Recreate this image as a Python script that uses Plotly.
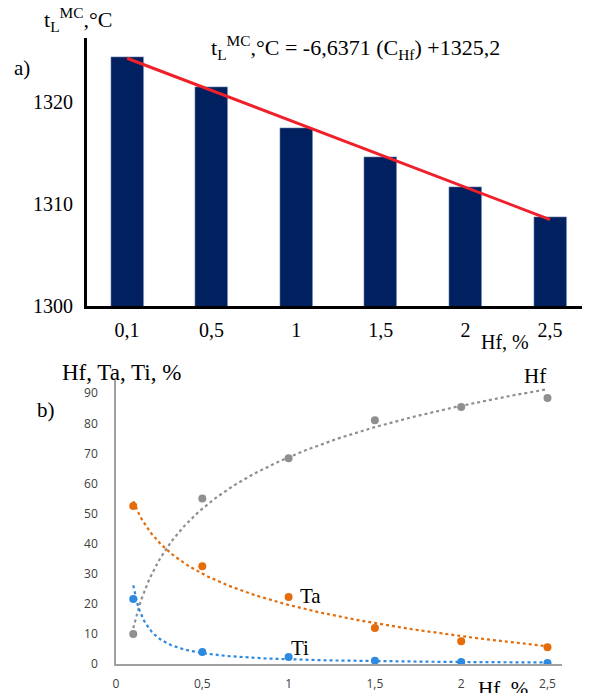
import numpy as np
import plotly.graph_objects as go

# ---- data: panel a) ----
hf_categories = ["0,1", "0,5", "1", "1,5", "2", "2,5"]
tl_values = [1324.4, 1321.5, 1317.5, 1314.6, 1311.7, 1308.7]
top_yticks = [1300, 1310, 1320]

# ---- data: panel b) ----
hf_content = [0.1, 0.5, 1.0, 1.5, 2.0, 2.5]
hf_share = [10.0, 55.0, 68.4, 81.0, 85.4, 88.4]
ta_share = [52.5, 32.5, 22.3, 12.0, 7.6, 5.6]
ti_share = [21.6, 4.0, 2.3, 1.1, 0.7, 0.3]
bottom_xticks = [0, 0.5, 1, 1.5, 2, 2.5]
bottom_xtext = ["0", "0,5", "1", "1,5", "2", "2,5"]
bottom_yticks = [0, 10, 20, 30, 40, 50, 60, 70, 80, 90]

W, H = 595, 693
NAVY = "#002060"
RED = "#f0202a"
GRAY = "#8f8f8f"
ORANGE = "#e46c0a"
BLUE = "#2e8ae0"
SERIF = "Liberation Serif, Times New Roman, serif"
SANS = "Open Sans, sans-serif"


def px(x):
    return x / W


def py(y):
    return 1 - y / H


fig = go.Figure()

# panel a: bars + linear trend (Excel-style, x = 1..n)
fig.add_trace(go.Bar(x=hf_categories, y=tl_values, marker_color=NAVY,
                     width=0.39, xaxis="x", yaxis="y", showlegend=False))
idx = np.arange(1, len(tl_values) + 1)
k, b = np.polyfit(idx, tl_values, 1)
trend_a = k * idx + b
fig.add_trace(go.Scatter(x=hf_categories, y=trend_a, mode="lines",
                         line=dict(color=RED, width=3), xaxis="x", yaxis="y",
                         showlegend=False))

# panel b: points + trendlines
xs = np.array(hf_content)
xf = np.linspace(0.1, 2.5, 200)
a1, b1 = np.polyfit(np.log(xs), hf_share, 1)          # Hf: logarithmic
hf_fit = a1 * np.log(xf) + b1
a2, b2 = np.polyfit(np.log(xs), ta_share, 1)          # Ta: logarithmic
ta_fit = a2 * np.log(xf) + b2
p3, c3 = np.polyfit(np.log(xs), np.log(ti_share), 1)  # Ti: power
ti_fit = np.exp(c3) * xf ** p3

for fit, vals, col in [(hf_fit, hf_share, GRAY), (ta_fit, ta_share, ORANGE),
                       (ti_fit, ti_share, BLUE)]:
    fig.add_trace(go.Scatter(x=xf, y=fit, mode="lines",
                             line=dict(color=col, width=2.2, dash="dot"),
                             xaxis="x2", yaxis="y2", showlegend=False))
    fig.add_trace(go.Scatter(x=hf_content, y=vals, mode="markers",
                             marker=dict(color=col, size=8),
                             xaxis="x2", yaxis="y2", showlegend=False))

fig.update_layout(
    width=W, height=H,
    margin=dict(l=0, r=0, t=0, b=0),
    paper_bgcolor="white", plot_bgcolor="white",
    bargap=0,
    xaxis=dict(domain=[px(87), px(582)], type="category",
               range=[-0.473, 5.378], showline=True, linecolor="black",
               linewidth=3, ticks="", showgrid=False, zeroline=False,
               tickfont=dict(family=SERIF, size=20, color="black"),
               ticklabelstandoff=4, anchor="y", automargin=False),
    yaxis=dict(domain=[py(306), py(38)], range=[1300, 1326.3],
               tickvals=top_yticks, showline=True, linecolor="black",
               linewidth=3, ticks="", showgrid=False, zeroline=False,
               tickfont=dict(family=SERIF, size=20, color="black"),
               ticklabelstandoff=7, anchor="x", automargin=False),
    xaxis2=dict(domain=[px(116), px(562)], range=[0, 2.584],
                tickvals=bottom_xticks, ticktext=bottom_xtext,
                showline=True, linecolor="#a0a0a0", linewidth=1.5, ticks="",
                showgrid=False, zeroline=False,
                tickfont=dict(family=SANS, size=12, color="#404040"),
                ticklabelstandoff=8, anchor="y2", automargin=False),
    yaxis2=dict(domain=[py(664), py(380)], range=[0, 94.4],
                tickvals=bottom_yticks, showline=True, linecolor="#a0a0a0",
                linewidth=1.5, ticks="", showgrid=False, zeroline=False,
                tickfont=dict(family=SANS, size=12, color="#404040"),
                ticklabelstandoff=14, anchor="x2", automargin=False),
)


def label(text, x, y, size=21, xanchor="left", yanchor="middle"):
    fig.add_annotation(text=text, x=px(x), y=py(y), xref="paper", yref="paper",
                       showarrow=False, xanchor=xanchor, yanchor=yanchor,
                       borderpad=0,
                       font=dict(family=SERIF, size=size, color="black"))


label("t<sub>L</sub><sup>MC</sup>,°C", 43, 20, size=22)
label("a)", 13, 68, size=21)
label("t<sub>L</sub><sup>MC</sup>,°C = -6,6371 (C<sub>Hf</sub>) +1325,2", 210, 48, size=22)
label("Hf, %", 480, 342, size=20)

label("Hf, Ta, Ti, %", 61, 372, size=23)
label("b)", 36, 410, size=21)
label("Hf", 523, 376, size=21)
label("Ta", 299, 596, size=21)
label("Ti", 290, 648, size=21)
label("Hf, %", 477, 676, size=21, yanchor="top")

fig.write_html("out.html",
               config={"displayModeBar": False},
               post_script="document.body.style.margin='0';"
                           "document.body.style.overflow='hidden';")
